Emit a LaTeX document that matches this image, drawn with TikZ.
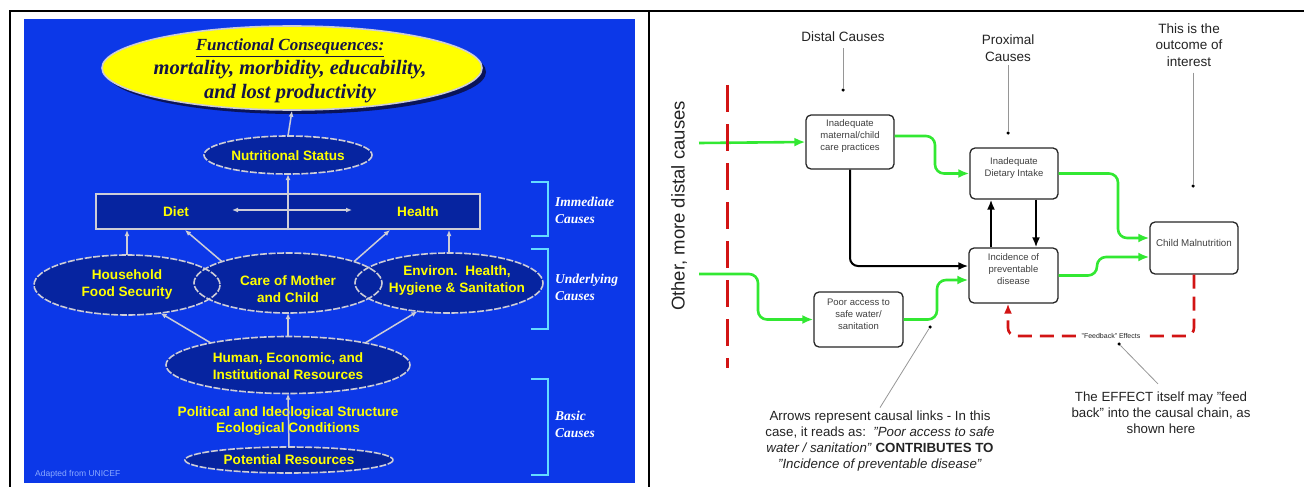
\documentclass[tikz,border=0pt]{standalone}
\usepackage{fontspec}
\setmainfont{Liberation Sans}
\newfontfamily\serifBI{Liberation Serif}
\usetikzlibrary{shapes.geometric,arrows.meta,calc}
\definecolor{blueback}{RGB}{12,56,232}
\definecolor{navyfill}{RGB}{6,36,160}
\definecolor{lgray}{RGB}{205,205,215}
\definecolor{ylw}{RGB}{255,255,0}
\definecolor{cyanbr}{RGB}{100,220,255}
\definecolor{ttl}{RGB}{20,20,70}
\definecolor{shadowc}{RGB}{10,20,90}
\definecolor{grn}{RGB}{50,232,50}
\definecolor{rdd}{RGB}{210,20,20}
\definecolor{annotc}{RGB}{150,150,150}
\definecolor{txtc}{RGB}{35,35,35}
\begin{document}
\begin{tikzpicture}[x=1pt,y=-1pt,
  lell/.style={ellipse, fill=navyfill, inner sep=0},
  eborder/.style={draw=lgray, line width=1.6pt, dash pattern=on 7pt off 1.6pt},
  ltext/.style={font=\fontsize{13.6}{17}\selectfont\bfseries, text=ylw, align=center, inner sep=0},
  wline/.style={draw=lgray, line width=1.5pt, -{Latex[length=6pt,width=5pt]}},
  brk/.style={draw=cyanbr, line width=2.4pt},
  brktext/.style={font=\serifBI\bfseries\itshape\fontsize{13.5}{17}\selectfont, text=white, align=left, anchor=west, inner sep=0},
  rbox/.style={draw=black!85, rounded corners=5pt, line width=1.3pt, fill=white, inner sep=0},
  btext/.style={font=\fontsize{9.5}{12}\selectfont, text=black!75, align=center, inner sep=0},
  garrow/.style={draw=grn, line width=2.6pt, rounded corners=9pt, -{Latex[length=11pt,width=9pt]}},
  barrow/.style={draw=black, line width=2pt, rounded corners=8pt, -{Latex[length=10pt,width=8pt]}},
  rdash/.style={draw=rdd, line width=2.6pt, dash pattern=on 14pt off 8pt, rounded corners=8pt, -{Latex[length=10pt,width=8pt]}},
  annot/.style={draw=annotc, line width=0.8pt},
  dot/.style={circle, fill=black, inner sep=0, minimum size=3.5pt},
  rtext/.style={font=\fontsize{13.5}{16.5}\selectfont, text=txtc, align=center, inner sep=0},
  ntext/.style={font=\fontsize{13.3}{16}\selectfont, text=txtc, align=center, inner sep=0}
]
\useasboundingbox (0,0) rectangle (1304,487);
% frame
\draw[line width=2.5pt] (10,487) -- (10,11) -- (1304,11);
\draw[line width=2.5pt] (649,11) -- (649,487);
% ---------------- left panel ----------------
\fill[blueback] (24,19) rectangle (635,483);
\coordinate (fcc) at (292,68);
\fill[shadowc] ($(fcc)+(4,4)$) ellipse [x radius=190, y radius=42];
\node[ellipse, fill=ylw, draw=lgray, line width=1.6pt, minimum width=380, minimum height=84, inner sep=0] (fc) at (fcc) {};
\node[font=\serifBI\bfseries\itshape\fontsize{20.5}{24}\selectfont, text=ttl, align=center, inner sep=0] (fct) at (290,71)
  {{\fontsize{17}{24}\selectfont\underline{Functional Consequences:}}\\mortality, morbidity, educability,\\and lost productivity};

\node[lell, minimum width=168, minimum height=38] (nut) at (288,155) {};
\draw[eborder] (nut.center) ellipse [x radius=84, y radius=19];
\node[ltext] (nutt) at (288,156) {Nutritional Status};

\node[draw=lgray, line width=2pt, fill=navyfill, minimum width=384, minimum height=35, inner sep=0] (dh) at (288,211.5) {};
\node[ltext] (diet) at (176,212) {Diet};
\node[ltext] (health) at (418,212) {Health};
\coordinate (dl) at (232,210);
\coordinate (dr) at (352,210);
\draw[draw=lgray, line width=1.5pt, {Latex[length=6pt,width=5pt]}-{Latex[length=6pt,width=5pt]}] (dl) -- (dr);

% underlying ellipses
\node[lell, minimum width=186, minimum height=60] (hfs) at (127,285) {};
\node[lell, minimum width=188, minimum height=60] (cmc) at (288,283) {};
\node[lell, minimum width=188, minimum height=60] (env) at (449,283) {};
\draw[eborder] (hfs.center) ellipse [x radius=93, y radius=30];
\draw[eborder] (cmc.center) ellipse [x radius=94, y radius=30];
\draw[eborder] (env.center) ellipse [x radius=94, y radius=30];
\node[ltext] (hfst) at (127,284) {Household\\Food Security};
\node[ltext] (cmct) at (288,289) {Care of Mother\\and Child};
\node[ltext] (envt) at (457,281) {Environ.\ \ Health,\\Hygiene \& Sanitation};

\node[lell, minimum width=244, minimum height=57] (hum) at (288,365) {};
\draw[eborder] (hum.center) ellipse [x radius=122, y radius=28.5];
\node[ltext] (humt) at (288,366) {Human, Economic, and\\Institutional Resources};

\node[ltext, font=\fontsize{13.7}{16}\selectfont\bfseries] (pol) at (288,421) {Political and Ideological Structure\\Ecological Conditions};

\node[lell, minimum width=208, minimum height=26] (pot) at (289,460) {};
\draw[eborder] (pot.center) ellipse [x radius=104, y radius=13];
\node[ltext] (pott) at (289,460) {Potential Resources};

% left arrows
\draw[wline] (nut.north) -- (fc.south);
\draw[wline] (dh.south) -- (nut.south);
\draw[wline] (hfs.north) -- (hfs.north |- dh.south);
\draw[wline] (cmc.162) -- (185,0 |- dh.south);
\draw[wline] (cmc.18) -- (390,0 |- dh.south);
\draw[wline] (env.north) -- (env.north |- dh.south);
\draw[wline] (hum.164) -- (hfs.-40);
\draw[wline] (hum.north) -- (cmc.south);
\draw[wline] (hum.16) -- (env.-138);
\draw[wline] (pot.north) -- (hum.south);

% brackets
\draw[brk] (531,182) -- (548,182) -- (548,236) -- (531,236);
\draw[brk] (531,249) -- (548,249) -- (548,329) -- (531,329);
\draw[brk] (531,379) -- (548,379) -- (548,475) -- (531,475);
\node[brktext] (imm) at (555,210) {Immediate\\Causes};
\node[brktext] (und) at (555,287) {Underlying\\Causes};
\node[brktext] (bas) at (555,424) {Basic\\Causes};

\node[font=\fontsize{8.5}{10}\selectfont, text={rgb,255:red,140;green,170;blue,255}, anchor=west, inner sep=0] (unicef) at (35,474) {Adapted from UNICEF};

% ---------------- right panel ----------------
\node[rbox, minimum width=88, minimum height=54] (mcp) at (850,142) {};
\node[btext] (mcpt) at (850,136) {Inadequate\\maternal/child\\care practices};
\node[rbox, minimum width=88, minimum height=51] (dii) at (1014,173.5) {};
\node[btext] (diit) at (1014,168) {Inadequate\\Dietary Intake};
\node[rbox, minimum width=89, minimum height=55] (inc) at (1013.5,275.5) {};
\node[btext] (inct) at (1013.5,269) {Incidence of\\preventable\\disease};
\node[rbox, minimum width=89, minimum height=55] (pa) at (858.5,319.5) {};
\node[btext] (pat) at (858.5,314) {Poor access to\\safe water/\\sanitation};
\node[rbox, minimum width=88, minimum height=52] (cm) at (1194,248) {};
\node[btext, font=\fontsize{9.8}{12}\selectfont] (cmt) at (1194,243) {Child Malnutrition};

% green connectors
\coordinate (g1s) at (699,143);
\coordinate (g2s) at (699,274);
\draw[garrow] (g1s) -- (mcp.west);
\draw[garrow] (g2s) -- (758,274) -- (758,319.5) -- (pa.west);
\draw[garrow] ([yshift=6pt]mcp.east) -- (935,136) -- (935,173.5) -- (dii.west);
\draw[garrow] (dii.east) -- (1118,173.5) -- (1118,238) -- ([yshift=10pt]cm.west);
\draw[garrow] (inc.east) -- (1097,275.5) -- (1097,257) -- ([yshift=-9pt]cm.west);
\draw[garrow] (pa.east) -- (937,319.5) -- (937,280) -- ([yshift=-4.5pt]inc.west);

% black connectors
\draw[barrow] (mcp.south) |- ([yshift=9.5pt]inc.west);
\draw[barrow] ([xshift=-22.5pt]inc.north) -- ([xshift=-23pt]dii.south);
\draw[barrow] ([xshift=22pt]dii.south) -- ([xshift=22.5pt]inc.north);

% red vertical dashed line
\draw[rdd, line width=3pt, dash pattern=on 27pt off 12pt] (727,85) -- (727,368);

% feedback
\coordinate (fbk) at (1111,336);
\draw[rdash] (cm.south) -- (cm.south |- fbk) -| ([xshift=-5.5pt]inc.south);
\node[fill=white, font=\fontsize{7}{8}\selectfont, text=txtc, inner sep=1.5pt] (fbl) at (fbk) {"Feedback" Effects};

% rotated label
\node[font=\fontsize{18.5}{20}\selectfont, text=txtc, rotate=90, inner sep=0] (other) at (679,206) {Other, more distal causes};

% annotations
\node[rtext] (distal) at (843,37) {Distal Causes};
\node[dot] (dD) at (843,90) {};
\draw[annot] ([yshift=-6pt]distal.south) -- (dD);
\node[rtext] (prox) at (1008,48) {Proximal\\Causes};
\node[dot] (dP) at (1008,133) {};
\draw[annot] ([yshift=-4pt]prox.south) -- (dP);
\node[rtext] (outc) at (1189,45) {This is the\\outcome of\\interest};
\node[dot] (dO) at (1193,186) {};
\draw[annot] (dO |- outc.south) ++(0,6) -- (dO);

\node[ntext] (arrt) at (880,441) {Arrows represent causal links - In this\\case, it reads as:\ \ \textit{"Poor access to safe}\\\textit{water / sanitation"} \textbf{CONTRIBUTES TO}\\\textit{"Incidence of preventable disease"}};
\node[dot] (dA) at (930,327) {};
\draw[annot] (dA) -- ([yshift=3pt]arrt.north);

\node[ntext] (fbt) at (1161,413) {The EFFECT itself may "feed\\back" into the causal chain, as\\shown here};
\node[dot] (dF) at (1119,344) {};
\draw[annot] (dF) -- ([xshift=-3pt,yshift=8pt]fbt.north);
\end{tikzpicture}
\end{document}
